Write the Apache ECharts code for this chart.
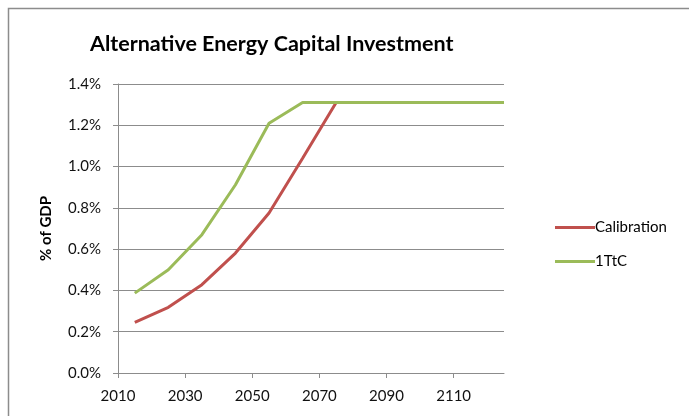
<!DOCTYPE html>
<html><head><meta charset="utf-8">
<script src="https://cdn.jsdelivr.net/npm/echarts@6/dist/echarts.min.js"></script>
<style>html,body{margin:0;padding:0;background:#fff}#c{width:689px;height:416px}</style>
</head><body><div id="c"></div>
<script>
const years = [2015, 2025, 2035, 2045, 2055, 2065, 2075, 2085, 2095, 2105, 2115, 2125];
const calibration = [0.245, 0.318, 0.428, 0.581, 0.775, 1.04, 1.31, 1.31, 1.31, 1.31, 1.31, 1.31];
const ttc = [0.387, 0.50, 0.67, 0.912, 1.21, 1.31, 1.31, 1.31, 1.31, 1.31, 1.31, 1.31];
const xTicks = [2010, 2030, 2050, 2070, 2090, 2110];
const seriesNames = ['Calibration', '1TtC'];
const colors = ['#C0504D', '#9BBB59'];

const chart = echarts.init(document.getElementById('c'), null, {renderer: 'canvas'});
const font = 'Lato';
const mk = (vals) => years.map((y, i) => [y, vals[i]]);
chart.setOption({
  animation: false,
  textStyle: {fontFamily: font},
  title: {
    text: 'Alternative Energy Capital Investment',
    top: 28, left: 'center', left: 85,
    textStyle: {fontFamily: font, fontWeight: 'bold', fontSize: 21.5, color: '#000'}
  },
  graphic: [{
    type: 'rect', shape: {x: 8.5, y: 8.5, width: 700, height: 420},
    style: {fill: 'none', stroke: '#8c8c8c', lineWidth: 1.5}, silent: true
  }],
  grid: {left: 118, right: 185, top: 84, bottom: 43, containLabel: false},
  legend: {
    orient: 'vertical', left: 550, top: 215, itemGap: 19,
    itemWidth: 40, itemHeight: 3, icon: 'rect',
    textStyle: {fontFamily: font, fontSize: 15, color: '#000', padding: [0, 0, 0, -5]},
    data: seriesNames
  },
  xAxis: {
    type: 'value', min: 2010, max: 2125, interval: 20,
    axisLine: {lineStyle: {color: '#8c8c8c'}},
    axisTick: {show: true, length: 5, lineStyle: {color: '#8c8c8c'}, customValues: xTicks},
    axisLabel: {fontSize: 15, color: '#111', margin: 16, customValues: xTicks, formatter: v => String(v)},
    splitLine: {show: false}
  },
  yAxis: {
    type: 'value', min: 0, max: 1.4, interval: 0.2,
    name: '% of GDP', nameLocation: 'middle', nameGap: 64,
    nameTextStyle: {fontFamily: font, fontWeight: 'bold', fontSize: 15, color: '#000'},
    axisLine: {show: true, lineStyle: {color: '#8c8c8c'}},
    axisTick: {show: true, length: 5, lineStyle: {color: '#8c8c8c'}},
    axisLabel: {fontSize: 15, color: '#111', margin: 17, formatter: v => v.toFixed(1) + '%'},
    splitLine: {lineStyle: {color: '#8c8c8c', width: 1}}
  },
  series: [
    {name: seriesNames[0], type: 'line', data: mk(calibration), showSymbol: false, symbol: 'none',
     lineStyle: {color: colors[0], width: 3}, itemStyle: {color: colors[0]}},
    {name: seriesNames[1], type: 'line', data: mk(ttc), showSymbol: false, symbol: 'none',
     lineStyle: {color: colors[1], width: 3}, itemStyle: {color: colors[1]}}
  ]
});
</script></body></html>
